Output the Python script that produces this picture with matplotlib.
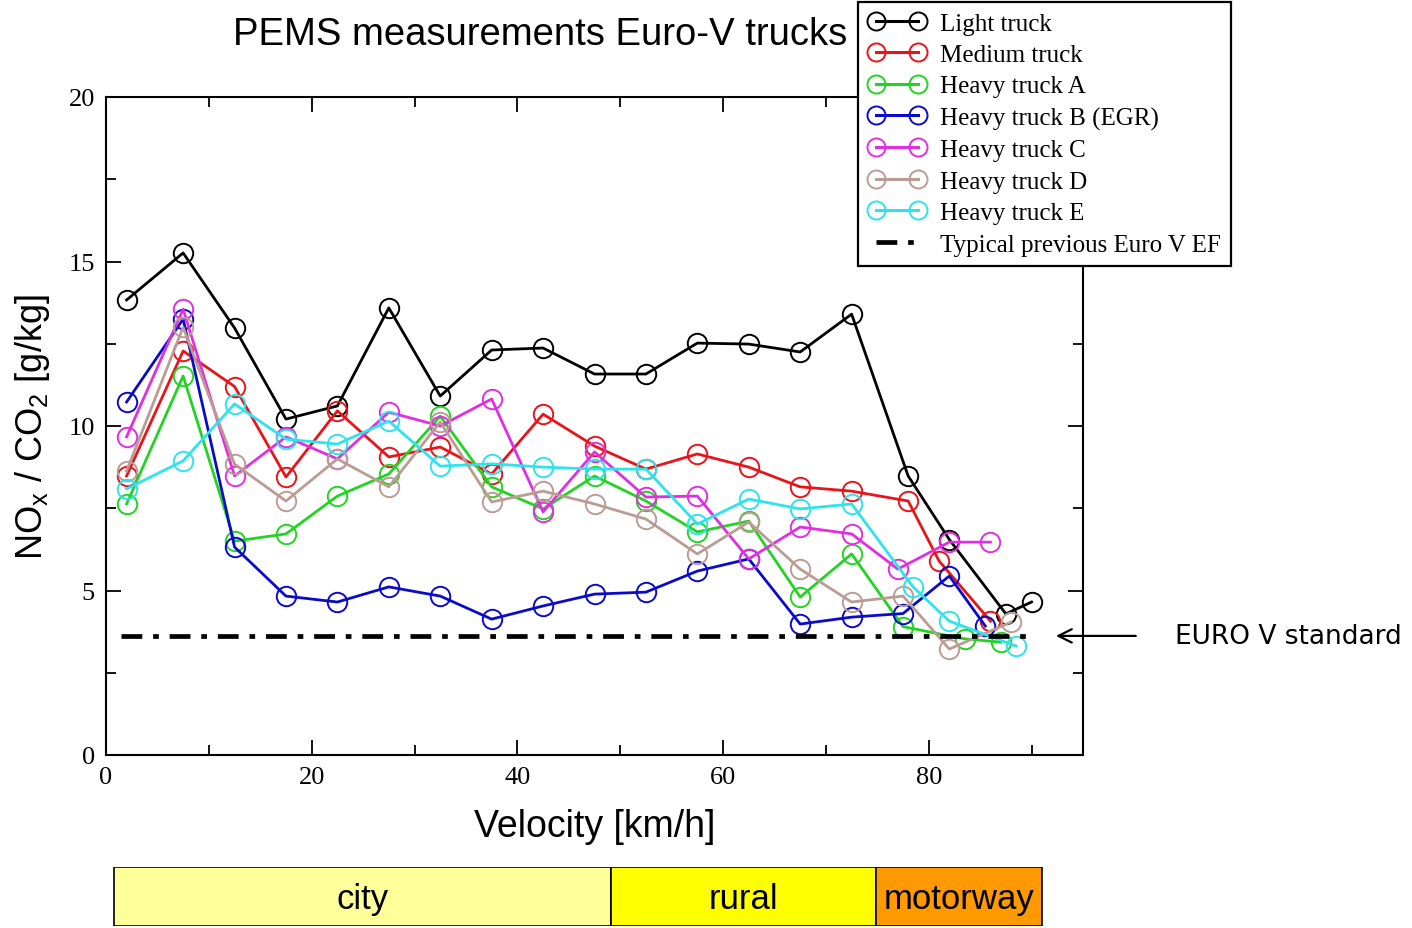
import matplotlib.pyplot as plt

# velocity bins [km/h] and NOx/CO2 [g/kg] per truck
x_light = [2, 7.5, 12.5, 17.5, 22.5, 27.5, 32.5, 37.5, 42.5, 47.5, 52.5, 57.5, 62.5, 67.5, 72.5, 78, 82, 87.5, 90]
y_light = [13.83, 15.26, 12.98, 10.21, 10.61, 13.59, 10.91, 12.31, 12.37, 11.58, 11.58, 12.52, 12.49, 12.25, 13.40,
           8.48, 6.55, 4.29, 4.65]

x_medium = [2, 7.5, 12.5, 17.5, 22.5, 27.5, 32.5, 37.5, 42.5, 47.5, 52.5, 57.5, 62.5, 67.5, 72.5, 78, 81, 86]
y_medium = [8.48, 12.28, 11.2, 8.45, 10.46, 9.06, 9.36, 8.54, 10.36, 9.39, 8.69, 9.15, 8.75, 8.15, 8.02, 7.72, 5.9, 4.07]

x_heavy_a = [2, 7.5, 12.5, 17.5, 22.5, 27.5, 32.5, 37.5, 42.5, 47.5, 52.5, 57.5, 62.5, 67.5, 72.5, 77.5, 83.5, 87]
y_heavy_a = [7.63, 11.52, 6.5, 6.72, 7.87, 8.54, 10.3, 8.15, 7.48, 8.48, 7.72, 6.78, 7.11, 4.8, 6.11, 3.9, 3.53, 3.43]

x_heavy_b = [2, 7.5, 12.5, 17.5, 22.5, 27.5, 32.5, 37.5, 42.5, 47.5, 52.5, 57.5, 62.5, 67.5, 72.5, 77.5, 82, 85.5]
y_heavy_b = [10.73, 13.25, 6.32, 4.83, 4.65, 5.11, 4.83, 4.13, 4.53, 4.89, 4.95, 5.59, 5.96, 3.98, 4.19, 4.3, 5.44, 3.92]

x_heavy_c = [2, 7.5, 12.5, 17.5, 22.5, 27.5, 32.5, 37.5, 42.5, 47.5, 52.5, 57.5, 62.5, 67.5, 72.5, 77, 82, 86]
y_heavy_c = [9.67, 13.55, 8.48, 9.67, 9.0, 10.42, 10.0, 10.82, 7.39, 9.21, 7.84, 7.87, 5.96, 6.93, 6.72, 5.65, 6.47, 6.47]

x_heavy_d = [2, 7.5, 12.5, 17.5, 22.5, 27.5, 32.5, 37.5, 42.5, 47.5, 52.5, 57.5, 62.5, 67.5, 72.5, 77.5, 82, 88]
y_heavy_d = [8.63, 13.0, 8.84, 7.72, 9.0, 8.15, 10.12, 7.69, 8.02, 7.63, 7.17, 6.11, 7.08, 5.65, 4.65, 4.83, 3.22, 4.04]

x_heavy_e = [2, 7.5, 12.5, 17.5, 22.5, 27.5, 32.5, 37.5, 42.5, 47.5, 52.5, 57.5, 62.5, 67.5, 72.5, 78.5, 82, 88.5]
y_heavy_e = [8.09, 8.94, 10.67, 9.6, 9.45, 10.15, 8.78, 8.85, 8.75, 8.69, 8.69, 7.02, 7.78, 7.48, 7.63, 5.1, 4.07, 3.31]

euro_v_x = [1.5, 89.5]
euro_v_ef = 3.62

zone_names = ["city", "rural", "motorway"]
zone_edges = [0.8, 49.1, 74.9, 91.0]
zone_colors = ["#ffff99", "#ffff00", "#ff9900"]


def main():
    W, H = 1412, 929
    fig = plt.figure(figsize=(W / 100, H / 100), dpi=100)
    ax = fig.add_axes([106 / W, 1 - 756 / H, (1083 - 106) / W, (756 - 98) / H])

    series = [
        ("Light truck", x_light, y_light, "#000000"),
        ("Medium truck", x_medium, y_medium, "#e8141a"),
        ("Heavy truck A", x_heavy_a, y_heavy_a, "#22d422"),
        ("Heavy truck B (EGR)", x_heavy_b, y_heavy_b, "#0a0acb"),
        ("Heavy truck C", x_heavy_c, y_heavy_c, "#e22ee2"),
        ("Heavy truck D", x_heavy_d, y_heavy_d, "#bb9c94"),
        ("Heavy truck E", x_heavy_e, y_heavy_e, "#2de3ec"),
    ]
    handles = []
    for name, xs, ys, col in series:
        ln, = ax.plot(xs, ys, color=col, lw=2, marker="o", ms=14, mfc="none", mec=col, mew=1.4, label=name)
        handles.append(ln)

    ev, = ax.plot(euro_v_x, [euro_v_ef, euro_v_ef], color="black", lw=3.4,
                  linestyle=(0, (4.4, 2.3, 1.2, 2.3)), label="Typical previous Euro V EF")
    handles.append(ev)

    ax.set_xlim(0, 95)
    ax.set_ylim(0, 20)
    ax.set_xticks([0, 20, 40, 60, 80])
    ax.set_xticks([10, 30, 50, 70, 90], minor=True)
    ax.set_yticks([0, 5, 10, 15, 20])
    ax.set_yticks([2.5, 7.5, 12.5, 17.5], minor=True)
    ax.tick_params(which="both", direction="in", top=True, right=True, width=1.3)
    ax.tick_params(which="major", length=11, labelsize=19, pad=8)
    ax.tick_params(which="minor", length=7)
    for lab in ax.get_xticklabels() + ax.get_yticklabels():
        lab.set_fontfamily("Liberation Serif")
    for sp in ax.spines.values():
        sp.set_linewidth(1.5)

    ax.set_xlabel("Velocity [km/h]", fontsize=27, family="Liberation Sans", labelpad=14)
    ax.set_ylabel(r"NO$_\mathregular{x}$ / CO$_\mathregular{2}$ [g/kg]", fontsize=26,
                  family="Liberation Sans", labelpad=12)
    fig.text(540 / W, 1 - 35 / H, "PEMS measurements Euro-V trucks", fontsize=27.5,
             family="Liberation Sans", ha="center", va="center")

    leg = fig.legend(handles=handles, loc="upper left", bbox_to_anchor=(858 / W, 1 - 3 / H),
                     borderaxespad=0, numpoints=2, handlelength=2.3, handletextpad=0.6,
                     labelspacing=0.36, borderpad=0.4, fancybox=False, framealpha=1,
                     edgecolor="black", prop={"family": "Liberation Serif", "size": 18})
    leg.get_frame().set_linewidth(1.6)
    for h in leg.legend_handles[:-1]:
        h.set_markersize(13)
        h.set_linewidth(2.2)

    # arrow pointing at the Euro V line
    ax.annotate("", xy=(92.1, euro_v_ef), xytext=(100.4, euro_v_ef),
                arrowprops=dict(arrowstyle="->", lw=1.6, color="black", mutation_scale=24),
                annotation_clip=False)
    fig.text(1175 / W, 1 - 637 / H, "EURO V standard", fontsize=19, family="DejaVu Sans",
             ha="left", va="center")

    # driving zones bar below the axis
    ax2 = fig.add_axes([106 / W, 1 - 927 / H, (1083 - 106) / W, (927 - 868) / H])
    ax2.set_xlim(0, 95)
    ax2.set_ylim(0, 1)
    ax2.axis("off")
    for i, name in enumerate(zone_names):
        ax2.barh(0.5, zone_edges[i + 1] - zone_edges[i], left=zone_edges[i], height=1,
                 color=zone_colors[i], edgecolor="black", lw=1.2)
        ax2.text((zone_edges[i] + zone_edges[i + 1]) / 2, 0.47, name, ha="center", va="center",
                 fontsize=25, family="Liberation Sans")

    plt.savefig("out.png", dpi=100)


if __name__ == "__main__":
    main()
